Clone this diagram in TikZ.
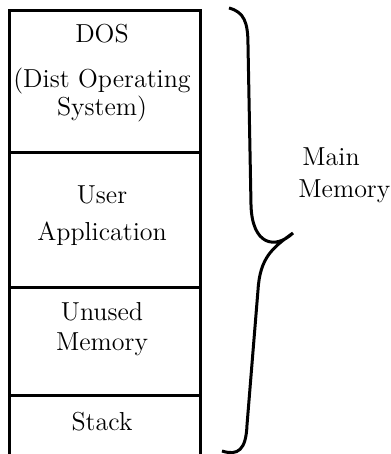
\documentclass[tikz,border=0pt]{standalone}
\usepackage{tikz}

\begin{document}
\begin{tikzpicture}[x=0.5pt, y=-0.5pt,
    region/.style={draw, line width=1.5pt, minimum width=95.5pt, anchor=north west, inner sep=0pt},
    memtext/.style={font=\fontsize{13}{14}\selectfont, align=center, inner sep=0pt}]
    \useasboundingbox (0,0) rectangle (390,454);
    % memory regions, top to bottom
    \node[region, minimum height=71pt]   (dosbox)    at (8, 9)   {};
    \node[region, minimum height=67.5pt] (userbox)   at (8, 151) {};
    \node[region, minimum height=54pt]   (unusedbox) at (8, 286) {};
    \node[region, minimum height=33pt]   (stackbox)  at (8, 394) {}; % runs off the bottom
    % region texts
    \node[memtext] (dos)    at (102, 73)    {DOS\\[8.5pt](Dist Operating\\System)};
    \node[memtext] (user)   at (102, 215.6) {User\\[4.5pt]Application};
    \node[memtext] (unused) at (102, 329)   {Unused\\[1pt]Memory};
    \node[memtext] (stack)  at (102, 421.7) {Stack};
    % brace
    \draw [line width=1.5pt] (229, 8) .. controls (244, 12) and (248, 22) .. (248, 45)
        -- (251, 205) .. controls (252, 245) and (275, 250) .. (293, 233)
        .. controls (272, 248) and (260, 258) .. (258, 290)
        -- (247, 425) .. controls (246, 450) and (238, 456) .. (222, 451);
    \node[memtext, align=left, anchor=west] (mainmem) at (298, 175) {\hspace{2pt}Main\\[2pt]Memory};
\end{tikzpicture}
\end{document}
